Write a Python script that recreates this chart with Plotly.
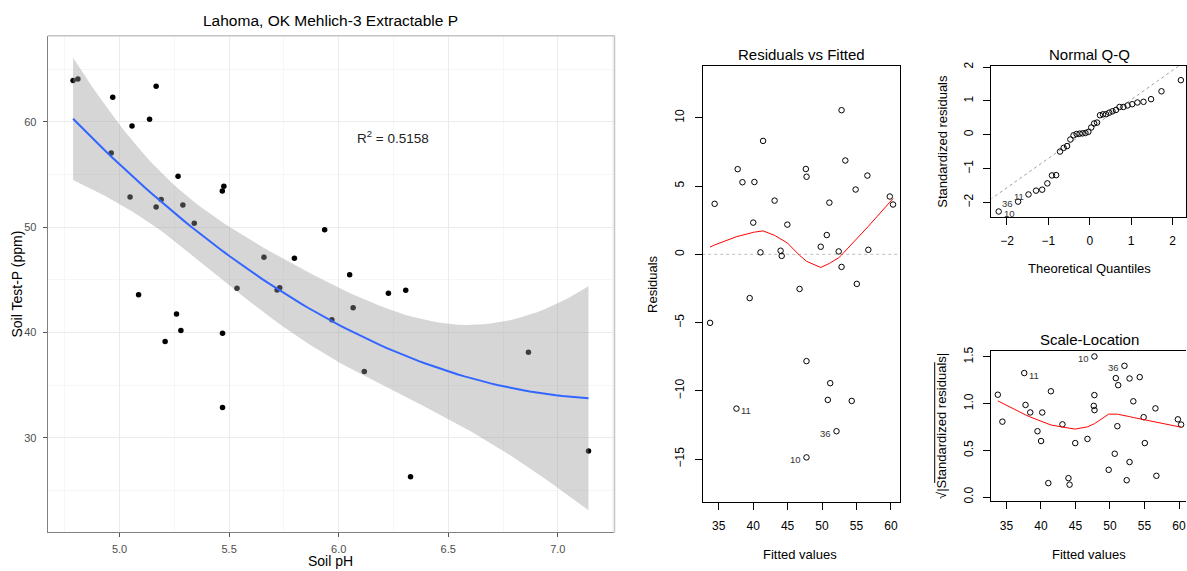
import numpy as np
import plotly.graph_objects as go
from statistics import NormalDist

# Lahoma, OK: soil pH vs Mehlich-3 extractable P (one row per plot, in field order)
soil_ph = [4.788, 4.810, 4.969, 5.167, 5.137, 5.057, 4.962, 5.267, 5.476, 5.470,
           6.328, 5.469, 5.048, 5.190, 5.167, 5.289, 5.341, 5.659, 5.798, 5.536,
           5.719, 5.731, 5.936, 6.050, 6.306, 6.227, 6.066, 5.969, 6.117, 6.866,
           7.140, 5.087, 5.260, 5.280, 5.470, 5.208]
soil_p = [63.95, 64.07, 62.35, 63.39, 60.25, 59.62, 57.05, 54.85, 53.90, 32.87,
          26.28, 53.44, 52.88, 52.63, 51.91, 52.10, 50.37, 47.14, 47.05, 44.20,
          44.03, 44.25, 49.75, 45.48, 44.00, 43.73, 42.34, 41.21, 36.29, 38.11,
          28.73, 43.57, 41.75, 40.18, 39.92, 39.14]
r2_label = "R<sup>2</sup> = 0.5158"

W, H = 1187, 571
FONT = "Liberation Sans, Arial, sans-serif"

x = np.array(soil_ph, dtype=float)
y = np.array(soil_p, dtype=float)
n = len(x)

# ---- quadratic regression  P ~ poly(pH, 2)
X = np.column_stack([np.ones(n), x, x ** 2])
XtX_inv = np.linalg.inv(X.T @ X)
beta = XtX_inv @ X.T @ y
fitted = X @ beta
resid = y - fitted
df_res = n - X.shape[1]
sigma = np.sqrt(np.sum(resid ** 2) / df_res)
hat = np.einsum("ij,jk,ik->i", X, XtX_inv, X)
std_res = resid / (sigma * np.sqrt(1 - hat))

# t quantile (0.975) via Cornish-Fisher expansion
z = NormalDist().inv_cdf(0.975)
v = df_res
tcrit = (z + (z ** 3 + z) / (4 * v) + (5 * z ** 5 + 16 * z ** 3 + 3 * z) / (96 * v ** 2)
         + (3 * z ** 7 + 19 * z ** 5 + 17 * z ** 3 - 15 * z) / (384 * v ** 3))

xg = np.linspace(x.min(), x.max(), 80)
Xg = np.column_stack([np.ones_like(xg), xg, xg ** 2])
yg = Xg @ beta
se = sigma * np.sqrt(np.einsum("ij,jk,ik->i", Xg, XtX_inv, Xg))
upper = yg + tcrit * se
lower = yg - tcrit * se


def lowess(xv, yv, f=2 / 3, iters=3):
    """Cleveland's robust locally weighted smoother (as in R's lowess)."""
    order = np.argsort(xv, kind="mergesort")
    xs, ys_in = xv[order], yv[order]
    m = len(xs)
    ns = max(min(int(f * m + 1e-7), m), 2)
    rw = np.ones(m)
    out = np.zeros(m)
    xrange_ = xs[-1] - xs[0]
    for it in range(iters + 1):
        nleft, nright = 0, ns - 1
        for i in range(m):
            xi = xs[i]
            while nright < m - 1 and (xi - xs[nleft]) > (xs[nright + 1] - xi):
                nleft += 1
                nright += 1
            h = max(xi - xs[nleft], xs[nright] - xi)
            h9, h1 = 0.999 * h, 0.001 * h
            d = np.abs(xs - xi)
            w = np.where(d <= h1, 1.0, np.where(d <= h9, (1 - (d / h) ** 3) ** 3, 0.0)) if h > 0 else (d == 0).astype(float)
            w = w * rw
            a = w.sum()
            if a <= 0:
                out[i] = ys_in[i]
                continue
            w = w / a
            if h > 0:
                am = np.sum(w * xs)
                b = xi - am
                c = np.sum(w * (xs - am) ** 2)
                if np.sqrt(c) > 0.001 * xrange_:
                    b = b / c
                    w = w * (b * (xs - am) + 1)
            out[i] = np.sum(w * ys_in)
        if it == iters:
            break
        r = np.abs(ys_in - out)
        cmad = 6 * np.median(r)
        if cmad < 1e-7 * np.mean(np.abs(ys_in)):
            break
        c9, c1 = 0.999 * cmad, 0.001 * cmad
        rw = np.where(r <= c1, 1.0, np.where(r > c9, 0.0, (1 - (r / cmad) ** 2) ** 2))
    return xs, out


sm1_x, sm1_y = lowess(fitted, resid)
sqrt_abs = np.sqrt(np.abs(std_res))
sm3_x, sm3_y = lowess(fitted, sqrt_abs)

# Normal Q-Q
ppts = (np.arange(1, n + 1) - 0.5) / n
theo_sorted = np.array([NormalDist().inv_cdf(p) for p in ppts])
rank = np.argsort(np.argsort(std_res, kind="mergesort"), kind="mergesort")
qq_x = theo_sorted[rank]
qq_y = std_res
q_y = np.quantile(std_res, [0.25, 0.75])
q_x = np.array([NormalDist().inv_cdf(0.25), NormalDist().inv_cdf(0.75)])
qq_slope = (q_y[1] - q_y[0]) / (q_x[1] - q_x[0])
qq_int = q_y[0] - qq_slope * q_x[0]
qq_line_x = np.array([-3.0, 3.0])
qq_line_y = qq_int + qq_slope * qq_line_x

top_resid = list(np.argsort(-np.abs(resid))[:3])
top_std = list(np.argsort(-np.abs(std_res))[:3])


def px_x(p):
    return p / W


def px_y(p):
    return 1 - p / H


fig = go.Figure()

# ---------------- main scatter with quadratic smoother
fig.add_trace(go.Scatter(x=x, y=y, mode="markers", xaxis="x", yaxis="y",
                         marker=dict(color="black", size=5.5), hoverinfo="skip"))
fig.add_trace(go.Scatter(x=np.concatenate([xg, xg[::-1]]), y=np.concatenate([upper, lower[::-1]]),
                         mode="lines", fill="toself", fillcolor="rgba(153,153,153,0.4)",
                         line=dict(width=0), xaxis="x", yaxis="y", hoverinfo="skip"))
fig.add_trace(go.Scatter(x=xg, y=yg, mode="lines", line=dict(color="#3366FF", width=2),
                         xaxis="x", yaxis="y", hoverinfo="skip"))

# ---------------- residuals vs fitted
fig.add_trace(go.Scatter(x=[30, 65], y=[0, 0], mode="lines", xaxis="x2", yaxis="y2",
                         line=dict(color="#BEBEBE", width=1, dash="dot"), hoverinfo="skip"))
fig.add_trace(go.Scatter(x=fitted, y=resid, mode="markers", xaxis="x2", yaxis="y2",
                         marker=dict(symbol="circle-open", color="black", size=5.5, line=dict(width=1)),
                         hoverinfo="skip"))
fig.add_trace(go.Scatter(x=sm1_x, y=sm1_y, mode="lines", xaxis="x2", yaxis="y2",
                         line=dict(color="red", width=1), hoverinfo="skip"))

# ---------------- normal Q-Q
fig.add_trace(go.Scatter(x=qq_line_x, y=qq_line_y, mode="lines", xaxis="x3", yaxis="y3",
                         line=dict(color="#A0A0A0", width=1, dash="dot"), hoverinfo="skip"))
fig.add_trace(go.Scatter(x=qq_x, y=qq_y, mode="markers", xaxis="x3", yaxis="y3",
                         marker=dict(symbol="circle-open", color="black", size=5.5, line=dict(width=1)),
                         hoverinfo="skip"))

# ---------------- scale-location
fig.add_trace(go.Scatter(x=fitted, y=sqrt_abs, mode="markers", xaxis="x4", yaxis="y4",
                         marker=dict(symbol="circle-open", color="black", size=5.5, line=dict(width=1)),
                         hoverinfo="skip"))
fig.add_trace(go.Scatter(x=sm3_x, y=sm3_y, mode="lines", xaxis="x4", yaxis="y4",
                         line=dict(color="red", width=1), hoverinfo="skip"))

annotations = []


def label(text, px, py, size, angle=0, color="black"):
    annotations.append(dict(text=text, x=px_x(px), y=px_y(py), xref="paper", yref="paper",
                            showarrow=False, textangle=angle, xanchor="center", yanchor="middle",
                            font=dict(size=size, color=color, family=FONT)))


# titles and axis titles
label("Lahoma, OK Mehlich-3 Extractable P", 331, 17, 15.5)
label("Soil pH", 331, 563, 14)
label("Soil Test-P (ppm)", 17.5, 283, 14, angle=-90)
label("Residuals vs Fitted", 802, 51, 15)
label("Fitted values", 801, 556, 13)
label("Residuals", 652.5, 283, 13, angle=-90)
label("Normal Q-Q", 1090, 51, 15)
label("Theoretical Quantiles", 1090.7, 267.3, 13)
label("Standardized residuals", 943.3, 138.7, 13, angle=-90)
label("Scale-Location", 1090, 339.3, 15)
label("Fitted values", 1090, 556, 13)
label("\u221A|Standardized residuals|", 941.7, 426.5, 13, angle=-90)

annotations.append(dict(text=r2_label, x=6.249, y=58.6, xref="x", yref="y", showarrow=False,
                        font=dict(size=13.5, color="#222222", family=FONT)))


def id_labels(idx, xs, ys, xr, yr):
    px = np.array([xs[i] for i in idx])
    mid = (px.min() + px.max()) / 2
    for i in idx:
        left = xs[i] > mid
        annotations.append(dict(text=str(i + 1), x=xs[i], y=ys[i], xref=xr, yref=yr, showarrow=False,
                                xanchor="right" if left else "left", yanchor="middle",
                                xshift=-3 if left else 3, yshift=-2,
                                font=dict(size=9.5, color="#333333", family=FONT)))


id_labels(top_resid, fitted, resid, "x2", "y2")
id_labels(top_std, qq_x, qq_y, "x3", "y3")
id_labels(top_std, fitted, sqrt_abs, "x4", "y4")

# ggplot-style panel frame: light top/right, darker left/bottom
shapes = [
    dict(type="line", xref="x domain", yref="y domain", x0=0, x1=1, y0=1, y1=1,
         line=dict(color="#C4C4C4", width=1.5)),
    dict(type="line", xref="x domain", yref="y domain", x0=1, x1=1, y0=0, y1=1,
         line=dict(color="#C4C4C4", width=1.5)),
    # overbar of the square-root sign in the scale-location axis title
    dict(type="line", xref="paper", yref="paper", x0=px_x(935.5), x1=px_x(935.5),
         y0=px_y(484), y1=px_y(362), line=dict(color="black", width=1)),
]

main_tick = dict(ticks="outside", ticklen=4, tickcolor="#555555", tickwidth=1,
                 tickfont=dict(size=11, color="#4D4D4D", family=FONT),
                 showline=True, linecolor="#808080", linewidth=1, zeroline=False,
                 showgrid=True, gridcolor="#EBEBEB", gridwidth=1)

r_axis = dict(ticks="outside", ticklen=7, tickcolor="black", tickwidth=1,
              tickfont=dict(size=12, color="black", family=FONT),
              showline=True, linecolor="black", linewidth=1, zeroline=False, showgrid=False)

fig.update_layout(
    width=W, height=H, margin=dict(l=0, r=0, t=0, b=0),
    paper_bgcolor="white", plot_bgcolor="white", showlegend=False,
    font=dict(family=FONT),
    xaxis=dict(domain=[px_x(47.7), px_x(615)], range=[4.672, 7.2586], anchor="y",
               tick0=5.0, dtick=0.5, tickformat=".1f", ticklabelstandoff=2,
               minor=dict(tick0=4.75, dtick=0.25, showgrid=True, gridcolor="#F6F6F6", gridwidth=0.6),
               **main_tick),
    yaxis=dict(domain=[px_y(534), px_y(32)], range=[21.0, 68.2], anchor="x",
               tick0=0, dtick=10, ticklabelstandoff=4,
               minor=dict(tick0=0, dtick=5, showgrid=True, gridcolor="#F6F6F6", gridwidth=0.6),
               **main_tick),
    xaxis2=dict(domain=[px_x(703.3), px_x(901)], range=[32.68, 61.35], anchor="y2",
                tickvals=[35, 40, 45, 50, 55, 60], mirror=True, ticklabelstandoff=6, **r_axis),
    yaxis2=dict(domain=[px_y(503.3), px_y(62.3)], range=[-18.14, 13.82], anchor="x2",
                tickvals=[-15, -10, -5, 0, 5, 10], tickangle=-90, mirror=True,
                ticklabelstandoff=6, **r_axis),
    xaxis3=dict(domain=[px_x(992.3), 1.0], range=[-2.375, 2.324], anchor="y3",
                tickvals=[-2, -1, 0, 1, 2], mirror=True, ticklabelstandoff=6, **r_axis),
    yaxis3=dict(domain=[px_y(215), px_y(62.3)], range=[-2.42, 2.04], anchor="x3",
                tickvals=[-2, -1, 0, 1, 2], tickangle=-90, mirror=True,
                ticklabelstandoff=6, **r_axis),
    xaxis4=dict(domain=[px_x(992.3), 1.0], range=[32.83, 61.01], anchor="y4",
                tickvals=[35, 40, 45, 50, 55, 60], mirror=True, ticklabelstandoff=6, **r_axis),
    yaxis4=dict(domain=[px_y(502.7), px_y(350.3)], range=[-0.047, 1.568], anchor="x4",
                tickvals=[0, 0.5, 1.0, 1.5], ticktext=["0.0", "0.5", "1.0", "1.5"],
                tickangle=-90, mirror=False, ticklabelstandoff=6, **r_axis),
    annotations=annotations,
    shapes=shapes,
)

fig.write_html("out.html")
